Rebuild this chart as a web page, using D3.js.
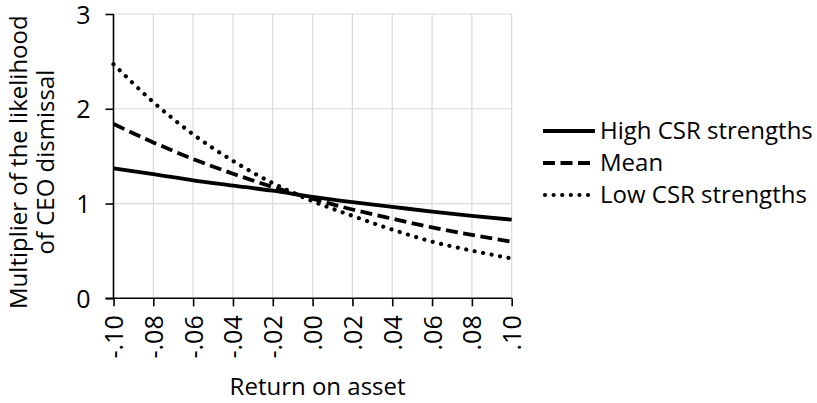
<!DOCTYPE html>
<html>
<head>
<meta charset="utf-8">
<script src="https://cdn.jsdelivr.net/npm/d3@7"></script>
<style>
  html, body { margin: 0; padding: 0; background: #fff; }
  svg { display: block; font-family: "Open Sans", sans-serif; }
</style>
</head>
<body>
<svg id="chart" width="817" height="403"></svg>
<script>
// Return on asset (x) values where each curve is sampled
const roa = [-0.10, -0.08, -0.06, -0.04, -0.02, 0.00, 0.02, 0.04, 0.06, 0.08, 0.10];
const xTickLabels = ["-.10", "-.08", "-.06", "-.04", "-.02", ".00", ".02", ".04", ".06", ".08", ".10"];
const yTicks = [0, 1, 2, 3];

// Multiplier of the likelihood of CEO dismissal for each group
const highCSR = [1.37, 1.31, 1.245, 1.19, 1.135, 1.07, 1.015, 0.965, 0.915, 0.87, 0.83];
const meanCSR = [1.84, 1.645, 1.47, 1.315, 1.175, 1.05, 0.937, 0.84, 0.748, 0.669, 0.598];
const lowCSR  = [2.47, 2.07, 1.73, 1.45, 1.215, 1.025, 0.87, 0.725, 0.598, 0.503, 0.42];

const seriesNames = ["High CSR strengths", "Mean", "Low CSR strengths"];

const series = [
  { name: seriesNames[0], values: highCSR, dash: null, width: 3.8, cap: "butt" },
  { name: seriesNames[1], values: meanCSR, dash: "12 5.5", width: 3.8, cap: "butt" },
  { name: seriesNames[2], values: lowCSR, dash: "0.01 8.6", width: 4.2, cap: "round" }
];

const svg = d3.select("#chart");

const x = d3.scaleLinear().domain([-0.10, 0.10]).range([113.5, 511.7]);
const y = d3.scaleLinear().domain([0, 3]).range([298.3, 14]);

const grid = "#d9d9d9";

// vertical gridlines
svg.append("g")
  .selectAll("line")
  .data(roa.slice(1))
  .join("line")
  .attr("x1", d => x(d)).attr("x2", d => x(d))
  .attr("y1", y(0)).attr("y2", y(3))
  .attr("stroke", grid).attr("stroke-width", 1.2);

// horizontal gridlines
svg.append("g")
  .selectAll("line")
  .data(yTicks.slice(1))
  .join("line")
  .attr("x1", x(-0.10)).attr("x2", x(0.10))
  .attr("y1", d => y(d)).attr("y2", d => y(d))
  .attr("stroke", grid).attr("stroke-width", 1.2);

// y axis
const yAxis = d3.axisLeft(y).tickValues(yTicks).tickFormat(d3.format("d")).tickSize(8).tickPadding(15);
const gy = svg.append("g").attr("transform", `translate(${x(-0.10)},0)`).call(yAxis);
gy.select(".domain").attr("stroke", "#000").attr("stroke-width", 1.6).attr("d", `M0,${y(0)}V${y(3)}`);
gy.selectAll(".tick line").attr("stroke", "#000").attr("stroke-width", 1.6);
gy.selectAll(".tick text")
  .attr("font-family", "Open Sans, sans-serif")
  .attr("font-size", 25)
  .attr("fill", "#000")
  .attr("dy", "0.36em");

// x axis
const xAxis = d3.axisBottom(x).tickValues(roa).tickFormat((d, i) => xTickLabels[i]).tickSize(8);
const gx = svg.append("g").attr("transform", `translate(0,${y(0)})`).call(xAxis);
gx.select(".domain").attr("stroke", "#000").attr("stroke-width", 1.6).attr("d", `M${x(-0.10) - 8},0H${x(0.10)}`);
gx.selectAll(".tick line").attr("stroke", "#000").attr("stroke-width", 1.6);
gx.selectAll(".tick text")
  .attr("font-family", "Open Sans, sans-serif")
  .attr("font-size", 25)
  .attr("fill", "#000")
  .attr("text-anchor", "end")
  .attr("transform", "rotate(-90)")
  .attr("x", -17)
  .attr("y", 0)
  .attr("dy", "0.36em");

// curves
const line = d3.line()
  .x((d, i) => x(roa[i]))
  .y(d => y(d))
  .curve(d3.curveMonotoneX);

svg.append("g")
  .selectAll("path")
  .data(series)
  .join("path")
  .attr("d", d => line(d.values))
  .attr("fill", "none")
  .attr("stroke", "#000")
  .attr("stroke-width", d => d.width)
  .attr("stroke-linecap", d => d.cap)
  .attr("stroke-dasharray", d => d.dash);

// legend
const legend = svg.append("g").attr("transform", "translate(543,131)");
const item = legend.selectAll("g")
  .data(series)
  .join("g")
  .attr("transform", (d, i) => `translate(0,${i * 32})`);
item.append("line")
  .attr("x1", d => d.cap === "round" ? 2 : 0).attr("x2", 52)
  .attr("y1", 0).attr("y2", 0)
  .attr("stroke", "#000")
  .attr("stroke-width", d => d.width)
  .attr("stroke-linecap", d => d.cap)
  .attr("stroke-dasharray", d => d.dash);
item.append("text")
  .attr("x", 57)
  .attr("y", 0)
  .attr("dy", "0.35em")
  .attr("font-size", 24)
  .attr("fill", "#000")
  .text(d => d.name);

// axis titles
svg.append("text")
  .attr("x", x(0) + 5)
  .attr("y", 395)
  .attr("text-anchor", "middle")
  .attr("font-size", 24)
  .attr("fill", "#000")
  .text("Return on asset");

const yTitle = svg.append("text")
  .attr("transform", `translate(0,${(y(0) + y(3)) / 2 + 6}) rotate(-90)`)
  .attr("text-anchor", "middle")
  .attr("font-size", 24)
  .attr("fill", "#000");
yTitle.append("tspan").attr("x", 0).attr("y", 27).text("Multiplier of the likelihood");
yTitle.append("tspan").attr("x", 0).attr("y", 54).text("of CEO dismissal");
</script>
</body>
</html>
